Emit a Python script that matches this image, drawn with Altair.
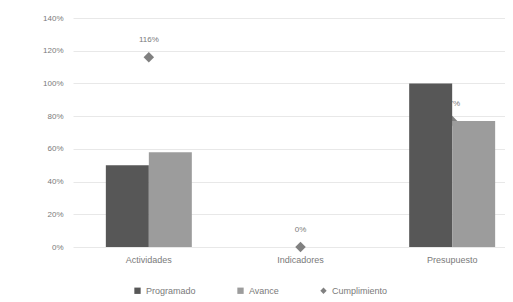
import altair as alt
import pandas as pd

categories = ["Actividades", "Indicadores", "Presupuesto"]
programado = [50, 0, 100]
avance = [58, 0, 77]
cumplimiento = [116, 0, 77]
cumplimiento_labels = ["116%", "0%", "77%"]
series = ["Programado", "Avance", "Cumplimiento"]
y_ticks = [0, 20, 40, 60, 80, 100, 120, 140]

bars = pd.DataFrame(
    [{"Categoria": c, "Serie": "Programado", "Valor": v} for c, v in zip(categories, programado)]
    + [{"Categoria": c, "Serie": "Avance", "Valor": v} for c, v in zip(categories, avance)]
)
pts = pd.DataFrame(
    {"Categoria": categories, "Serie": "Cumplimiento", "Valor": cumplimiento, "Etiqueta": cumplimiento_labels}
)

FONT = "Liberation Sans"
GRAY = "#7a7a7a"

x_enc = alt.X(
    "Categoria:N",
    sort=categories,
    scale=alt.Scale(range=[0, 455], paddingInner=0, paddingOuter=0),
    axis=alt.Axis(title=None, labelAngle=0, domain=False, ticks=False, labelPadding=8,
                  labelFontSize=9, labelColor=GRAY, labelFont=FONT),
)
y_enc = alt.Y(
    "Valor:Q",
    scale=alt.Scale(domain=[0, 140], nice=False),
    axis=alt.Axis(title=None, values=y_ticks, labelExpr="datum.value + '%'", domain=False, ticks=False,
                  labelOverlap=False, labelPadding=10, labelFontSize=8, labelColor=GRAY, labelFont=FONT,
                  gridColor="#e8e8e8", gridWidth=1),
)

color_scale = alt.Scale(domain=series, range=["#575757", "#9c9c9c", "#808080"])
shape_scale = alt.Scale(domain=series, range=["square", "square", "diamond"])
legend = alt.Legend(title=None, orient="none", legendX=60, legendY=268, direction="horizontal",
                    labelFontSize=9, labelColor=GRAY, labelFont=FONT, symbolSize=40,
                    columnPadding=40, symbolStrokeWidth=0)

points = alt.Chart(pts).mark_point(filled=True, size=110, opacity=1).encode(
    x=x_enc,
    y=y_enc,
    color=alt.Color("Serie:N", scale=color_scale, legend=legend),
    shape=alt.Shape("Serie:N", scale=shape_scale, legend=legend),
)
labels = alt.Chart(pts).mark_text(dy=-17, fontSize=8, color=GRAY, font=FONT).encode(
    x=x_enc,
    y=y_enc,
    text="Etiqueta:N",
)
barlayer = alt.Chart(bars).mark_bar().encode(
    x=x_enc,
    xOffset=alt.XOffset("Serie:N", sort=["Programado", "Avance"],
                        scale=alt.Scale(paddingInner=0, paddingOuter=0.764)),
    y=y_enc,
    color=alt.Color("Serie:N", scale=color_scale, legend=legend),
)

chart = alt.layer(points, labels, barlayer).properties(
    width=432, height=229,
    autosize=alt.AutoSizeParams(type="none"),
    padding={"left": 65, "top": 10, "right": 0, "bottom": 55},
    background="white",
).configure_view(stroke=None)

chart.save("out.html", embed_options={"renderer": "svg", "actions": False})
